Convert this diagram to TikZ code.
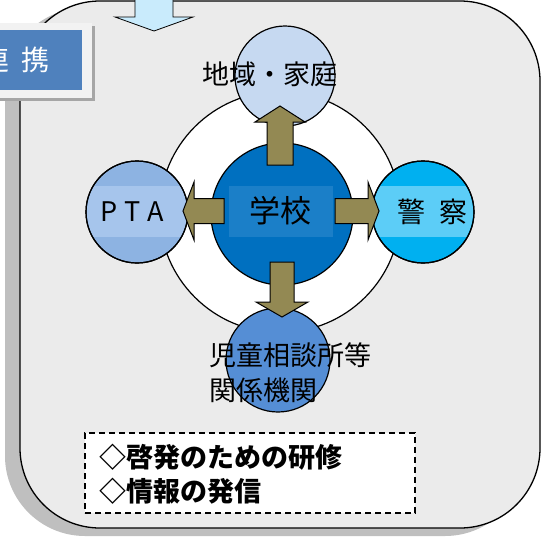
\documentclass[tikz,border=0pt]{standalone}
\usepackage{fontspec}
\setmainfont{Noto Sans CJK JP}
\usetikzlibrary{positioning}

\definecolor{panelGray}{HTML}{EBEBEB}
\definecolor{shadowGray}{HTML}{BFBFBF}
\definecolor{labelBlue}{HTML}{4F81BD}
\definecolor{labelFrame}{HTML}{F2F2F2}
\definecolor{inflowBlue}{HTML}{C9EBFC}
\definecolor{homeBlue}{HTML}{C6D9F1}
\definecolor{ptaBlue}{HTML}{8DB3E2}
\definecolor{ptaBand}{HTML}{A6C5EC}
\definecolor{schoolBlue}{HTML}{0070C0}
\definecolor{schoolBand}{HTML}{1B7FC8}
\definecolor{policeBlue}{HTML}{00B0F0}
\definecolor{policeBand}{HTML}{5CCDF7}
\definecolor{agencyBlue}{HTML}{558ED5}
\definecolor{arrowOlive}{HTML}{938953}

\begin{document}
\begin{tikzpicture}[x=1pt,y=-1pt,
    ring/.style={circle,draw=black,line width=1.2pt,inner sep=0pt},
    arrowfill/.style={fill=arrowOlive,draw=black,line width=1pt,line join=miter},
    pics/blockarr/.style n args={4}{code={
        \draw[arrowfill] (0,-#3) -- ({#1-#2},-#3) -- ({#1-#2},-#4) -- (#1,0)
            -- ({#1-#2},#4) -- ({#1-#2},#3) -- (0,#3) -- cycle;}}]
    \useasboundingbox (0,0) rectangle (544,539);

    % Panel with its shadow
    \fill[shadowGray,rounded corners=80pt] (5,8) rectangle (525,536);
    \draw[fill=panelGray,line width=1.3pt,rounded corners=80pt] (20,1) rectangle (540,528);

    % Incoming arrow at the top
    \draw[fill=inflowBlue,line width=0.8pt] (135,-10) -- (135,17) -- (115,17) -- (154,31)
        -- (193,17) -- (173,17) -- (173,-10) -- cycle;

    % Label box
    \fill[black!35] (-7,26) rectangle (95,101);
    \fill[labelFrame] (-10,23) rectangle (92,98);
    \fill[labelBlue] (-10,30) rectangle (82,90);
    \node[text=white,font=\fontsize{28}{30}\selectfont] (tag) at (16,60) {連\hspace{12pt}携};

    % Circles
    \node[ring,fill=white,minimum size=241pt] (ring) at (280,212) {};
    \node[ring,fill=homeBlue,minimum size=100pt] (home) at (285,76) {};
    \node[ring,fill=ptaBlue,minimum size=102pt] (pta) at (137,212) {};
    \node[ring,fill=policeBlue,minimum size=102pt] (police) at (423,212) {};
    \node[ring,fill=agencyBlue,minimum size=104pt] (agency) at (278,360) {};
    \node[ring,fill=schoolBlue,minimum size=142pt] (school) at (282,214) {};

    % Lighter bands behind the texts
    \begin{scope}
        \clip (pta) circle (50pt);
        \fill[ptaBand] (80,186) rectangle (190,237);
    \end{scope}
    \begin{scope}
        \clip (police) circle (50pt);
        \fill[policeBand] (370,186) rectangle (476,237);
    \end{scope}
    \fill[schoolBand] (229,186) rectangle (333,237);
    \draw[line width=1.2pt] (pta) circle (51pt) (police) circle (51pt);

    % Block arrows from the school
    \pic[rotate=90] at (280,165) {blockarr={59}{16}{13}{25}};
    \pic[rotate=-90] at (282,262) {blockarr={55}{15}{12}{26}};
    \pic[rotate=180] at (224,211) {blockarr={41}{11}{12.5}{29}};
    \pic at (335,211) {blockarr={44}{11}{12.5}{29}};

    % Texts
    \node[font=\fontsize{27}{30}\selectfont] (homeText) at (270,74) {地域・家庭};
    \node[font=\fontsize{31}{34}\selectfont] (schoolText) at (280,211) {学校};
    \node[font=\fontsize{27}{30}\selectfont] (ptaText) at (132,212) {P\hspace{7pt}T\hspace{7pt}A};
    \node[font=\fontsize{28}{30}\selectfont] (policeText) at (432,212) {警\hspace{14pt}察};
    \node[anchor=west,align=left,inner sep=0pt,font=\fontsize{27}{35}\selectfont]
        (agencyText) at (209,373) {児童相談所等\\関係機関};

    % Dashed box
    \node[draw=black,fill=white,line width=1.3pt,dash pattern=on 6pt off 4pt,
        minimum width=330pt,minimum height=80pt] (actions) at (250,473) {};
    \node[anchor=west,align=left,inner sep=0pt,font=\bfseries\fontsize{27}{34}\selectfont]
        (actionText) at (99,474) {◇啓発のための研修\\◇情報の発信};
\end{tikzpicture}
\end{document}
